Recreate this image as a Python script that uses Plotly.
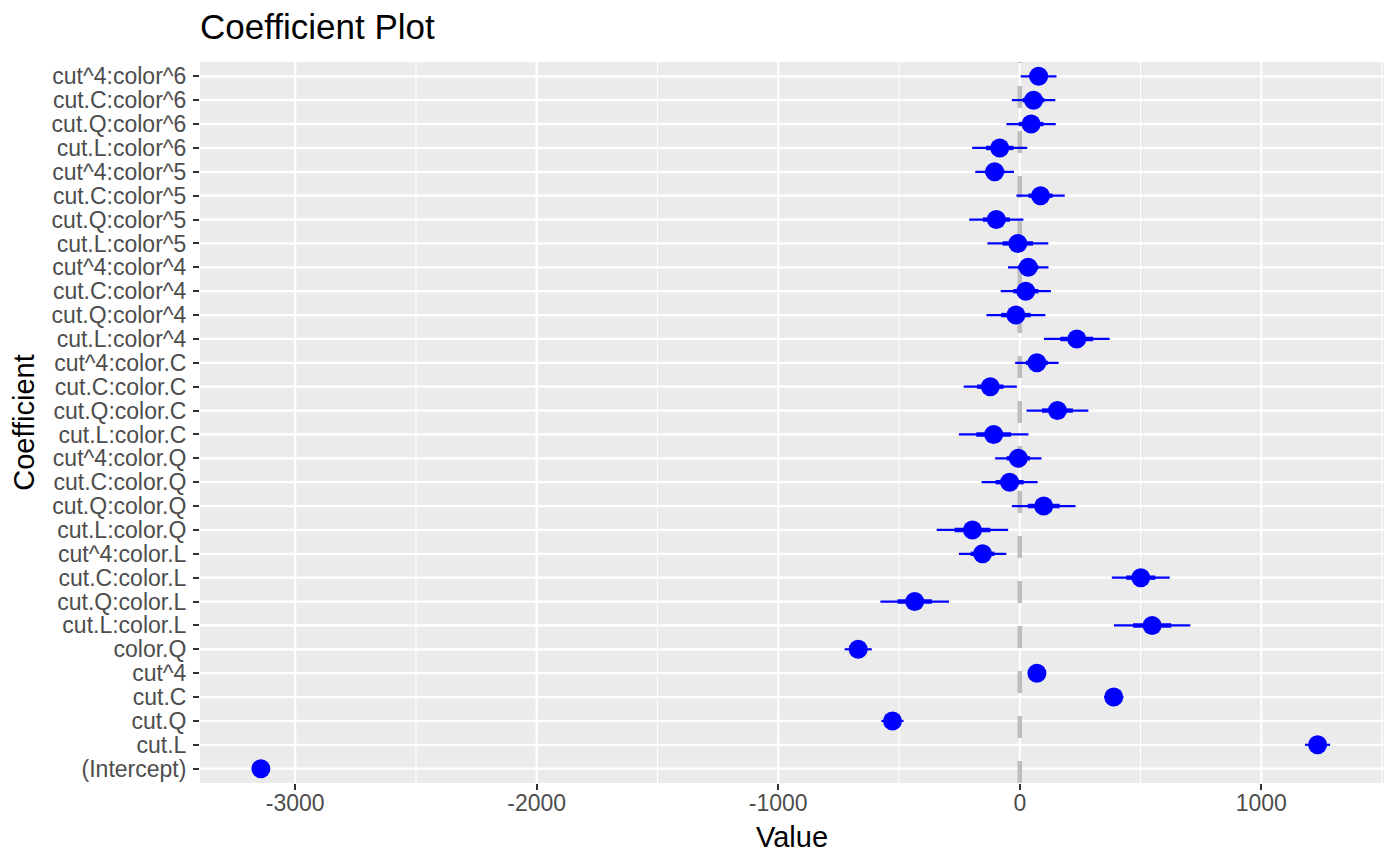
import plotly.graph_objects as go

# coefficients, bottom row first
coef_names = [
    "(Intercept)", "cut.L", "cut.Q", "cut.C", "cut^4", "color.Q",
    "cut.L:color.L", "cut.Q:color.L", "cut.C:color.L", "cut^4:color.L",
    "cut.L:color.Q", "cut.Q:color.Q", "cut.C:color.Q", "cut^4:color.Q",
    "cut.L:color.C", "cut.Q:color.C", "cut.C:color.C", "cut^4:color.C",
    "cut.L:color^4", "cut.Q:color^4", "cut.C:color^4", "cut^4:color^4",
    "cut.L:color^5", "cut.Q:color^5", "cut.C:color^5", "cut^4:color^5",
    "cut.L:color^6", "cut.Q:color^6", "cut.C:color^6", "cut^4:color^6",
]
coef_values = [
    -3142, 1233, -527, 389, 71, -669,
    548, -435, 501, -154,
    -196, 99, -42, -6,
    -108, 156, -122, 71,
    236, -16, 25, 35,
    -8, -97, 86, -104,
    -83, 47, 57, 78,
]
std_errors = [
    13, 26, 23, 20, 17, 28,
    79, 71, 60, 49,
    74, 66, 58, 48,
    72, 64, 55, 45,
    68, 61, 52, 42,
    63, 56, 50, 40,
    57, 51, 45, 37,
]

x_tick_vals = [-3000, -2000, -1000, 0, 1000]
x_tick_text = ["-3000", "-2000", "-1000", "0", "1000"]

BLUE = "#0000FF"
FONT = "Liberation Sans, Arial, sans-serif"

# interval segments (None breaks the line between rows)
outer_x, outer_y, inner_x, inner_y = [], [], [], []
for name, b, se in zip(coef_names, coef_values, std_errors):
    outer_x += [b - 2 * se, b + 2 * se, None]
    outer_y += [name, name, None]
    inner_x += [b - se, b + se, None]
    inner_y += [name, name, None]

fig = go.Figure()
fig.add_trace(go.Scatter(x=outer_x, y=outer_y, mode="lines",
                         line=dict(color=BLUE, width=2.2), hoverinfo="skip"))
fig.add_trace(go.Scatter(x=inner_x, y=inner_y, mode="lines",
                         line=dict(color=BLUE, width=4.4), hoverinfo="skip"))
fig.add_trace(go.Scatter(x=coef_values, y=coef_names, mode="markers",
                         marker=dict(color=BLUE, size=19, line=dict(width=0))))

# grid drawn as shapes so the zero line can sit on top of it, under the points
for v in x_tick_vals:
    fig.add_shape(type="line", xref="x", yref="paper", x0=v + 500, x1=v + 500,
                  y0=0, y1=1, line=dict(color="white", width=1.1), layer="below")
for v in x_tick_vals:
    fig.add_shape(type="line", xref="x", yref="paper", x0=v, x1=v,
                  y0=0, y1=1, line=dict(color="white", width=2.2), layer="below")
for name in coef_names:
    fig.add_shape(type="line", xref="paper", yref="y", x0=0, x1=1,
                  y0=name, y1=name, line=dict(color="white", width=2.2), layer="below")
fig.add_shape(type="line", xref="x", yref="paper", x0=0, x1=0, y0=0, y1=1,
              line=dict(color="#BEBEBE", width=4.6, dash="22px,23px"),
              layer="below")

# x axis title as annotation for exact placement
fig.add_annotation(text="Value", xref="paper", yref="paper", x=0.5, y=0,
                   yshift=-54, yanchor="middle", showarrow=False,
                   font=dict(size=29, color="black", family=FONT))

# page body adds 8px offset, so margins are shifted to compensate
fig.update_layout(
    width=1400, height=866,
    margin=dict(l=192, r=24, t=54, b=91),
    paper_bgcolor="white", plot_bgcolor="#EBEBEB",
    showlegend=False,
    font=dict(family=FONT, color="#4D4D4D"),
    title=dict(text="Coefficient Plot", x=0, xref="paper", xanchor="left",
               y=1 - 19 / 866, yref="container", yanchor="middle",
               font=dict(size=35, color="black", family=FONT)),
)
fig.update_xaxes(
    range=[-3394, 1508], tickvals=x_tick_vals, ticktext=x_tick_text,
    showgrid=False, zeroline=False,
    ticks="outside", ticklen=6, tickwidth=2, tickcolor="#333333",
    tickfont=dict(size=23, color="#4D4D4D"), ticklabelstandoff=-7,
    showline=False, automargin=False,
)
fig.update_yaxes(
    type="category", categoryorder="array", categoryarray=coef_names,
    tickmode="array", tickvals=coef_names, ticktext=coef_names,
    range=[-0.6, len(coef_names) - 0.4],
    showgrid=False, zeroline=False,
    ticks="outside", ticklen=6, tickwidth=2, tickcolor="#333333",
    tickfont=dict(size=23, color="#4D4D4D"), ticklabelstandoff=2,
    title=dict(text="Coefficient", font=dict(size=29, color="black"), standoff=8),
    showline=False, automargin=False,
)

fig.write_html("out.html")
